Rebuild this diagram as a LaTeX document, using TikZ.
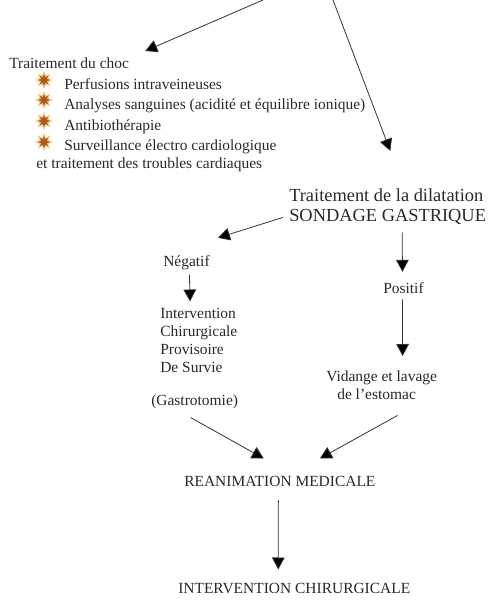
\documentclass[tikz,border=0pt]{standalone}
\usepackage{fontspec}
\setmainfont{Liberation Serif}
\usetikzlibrary{positioning, shapes.geometric, arrows.meta}
\definecolor{inktext}{gray}{0.16}
\definecolor{burstcol}{RGB}{176,88,30}
\definecolor{glowcol}{RGB}{245,205,130}
\tikzset{
  txt/.style={anchor=base west, inner sep=0pt, text=inktext, font=\fontsize{11.6}{13}\selectfont},
  big/.style={anchor=base west, inner sep=0pt, text=inktext, font=\fontsize{13.8}{15}\selectfont},
  flow/.style={draw=black!80, line width=0.6pt, -{Triangle[length=9pt,width=9.5pt,fill=black]}},
  burst/.style={star, star points=8, star point ratio=1.9, minimum size=11.5pt, inner sep=0pt,
    fill=burstcol, draw=glowcol, line width=0.7pt}
}

\begin{document}
\begin{tikzpicture}[x=0.75pt, y=-0.75pt]
    \useasboundingbox (0,0) rectangle (499,600);
    \coordinate (top1) at (263,0);
    \coordinate (top2) at (333,0);

    \node[txt] (choc) at (9,68) {Traitement du choc};
    \node[txt] (perf) at (64,89) {Perfusions intraveineuses};
    \node[txt] (analyses) at (64,109) {Analyses sanguines (acidité et équilibre ionique)};
    \node[txt] (antibio) at (64,130) {Antibiothérapie};
    \node[txt] (surv) at (64,150) {Surveillance électro cardiologique};
    \node[txt] (troubles) at (36,168) {et traitement des troubles cardiaques};
    \foreach \y/\name in {80/a,100/b,121/c,142/d}
      \node[burst] (burst\name) at (44,\y) {};

    \node[big] (dilat) at (289,201) {Traitement de la dilatation};
    \node[big] (sondage) at (289,221) {SONDAGE GASTRIQUE};

    \node[txt] (negatif) at (163,266) {Négatif};
    \node[txt] (positif) at (383,293) {Positif};
    \node[txt] (interv) at (160,318) {Intervention};
    \node[txt] (chir) at (160,336) {Chirurgicale};
    \node[txt] (prov) at (160,354) {Provisoire};
    \node[txt] (survie) at (160,372) {De Survie};
    \node[txt] (gastro) at (151,405) {(Gastrotomie)};
    \node[txt] (vidange) at (326,381) {Vidange et lavage};
    \node[txt] (estomac) at (337,399) {de l’estomac};
    \node[txt] (reanim) at (184,486) {REANIMATION MEDICALE};
    \node[txt] (interchir) at (178,593) {INTERVENTION CHIRURGICALE};

    \draw[flow] (top1) -- ([shift={(16,-6)}]choc.north east);
    \draw[flow] (top2) -- ([shift={(4,-37)}]dilat.north);
    \draw[flow] ([shift={(-6,1)}]sondage.west) -- ([shift={(8,-17)}]negatif.north east);
    \draw[flow] ([shift={(14.5,8)}]sondage.south) -- ([shift={(-1,-10)}]positif.north);
    \draw[flow] ([shift={(3,5)}]negatif.south) -- ([shift={(-8,-6)}]interv.north);
    \draw[flow] ([shift={(-1,6)}]positif.south) -- ([shift={(21,-14)}]vidange.north);
    \draw[flow] ([shift={(-4,9)}]gastro.south) -- ([shift={(-16,-17)}]reanim.north);
    \draw[flow] ([shift={(21,16)}]estomac.south) -- ([shift={(40,-17)}]reanim.north);
    \draw[flow] ([shift={(-1.5,14)}]reanim.south) -- ([shift={(-16,-13)}]interchir.north);
  \end{tikzpicture}
\end{document}
